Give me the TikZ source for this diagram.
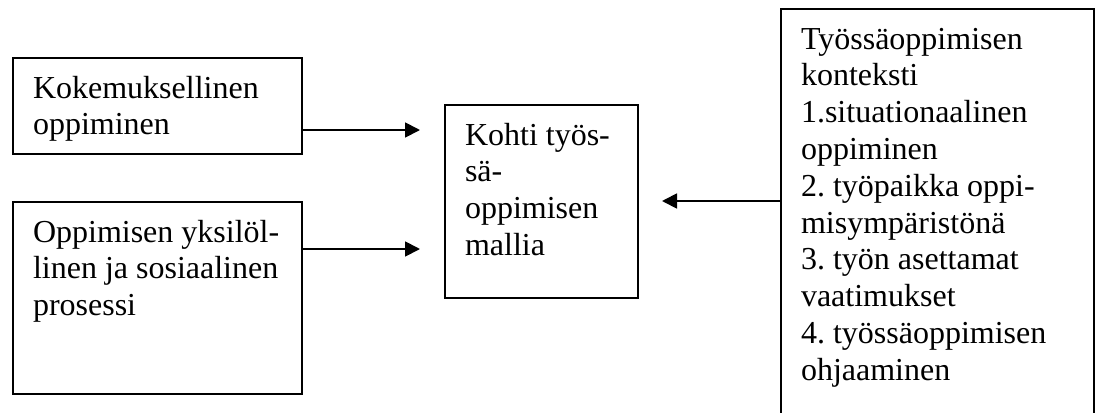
\documentclass[tikz,border=0pt]{standalone}
\usepackage{fontspec}
\setmainfont{Liberation Serif}
\usepackage{tikz}
\usetikzlibrary{arrows.meta}

\tikzset{
  box/.style={draw, line width=1pt, anchor=north west, align=flush left,
    inner xsep=10pt, inner ysep=9pt, text height=11pt,
    font=\fontsize{16}{18.4}\selectfont\frenchspacing},
  link/.style={line width=0.9pt, -{Triangle[length=7.5pt,width=7.5pt]}}
}

\begin{document}
\begin{tikzpicture}[x=1pt,y=1pt]
  \useasboundingbox (0,0) rectangle (548,-206);
  % left column: two sources
  \node[box, text width=124.5pt, text depth=19pt] (kokemus) at (6,-28.5)
    {Kokemuksellinen\\oppiminen};
  \node[box, text width=124.5pt, text depth=67pt] (prosessi) at (6,-100.5)
    {Oppimisen yksilöl-\\linen ja sosiaalinen\\prosessi};
  % middle: the model
  \node[box, text width=76.5pt, text depth=67.5pt] (malli) at (222,-52)
    {Kohti työs-\\sä-\\oppimisen\\mallia};
  % right: context (runs off the bottom)
  \node[box, text width=136.5pt, text depth=182pt] (konteksti) at (390,-4)
    {Työssäoppimisen\\konteksti\\1.situationaalinen\\oppiminen\\2. työpaikka oppi-\\misympäristönä\\3. työn asettamat\\vaatimukset\\4. työssäoppimisen\\ohjaaminen};
  % arrow ends, short of the middle box
  \coordinate (kok-end) at (210,-65);
  \coordinate (pros-end) at (210,-124.5);
  \coordinate (kont-end) at (331,-100.5);
  \draw[link] (kokemus.east |- kok-end) -- (kok-end);
  \draw[link] (prosessi.east |- pros-end) -- (pros-end);
  \draw[link] (konteksti.west |- kont-end) -- (kont-end);
\end{tikzpicture}
\end{document}
